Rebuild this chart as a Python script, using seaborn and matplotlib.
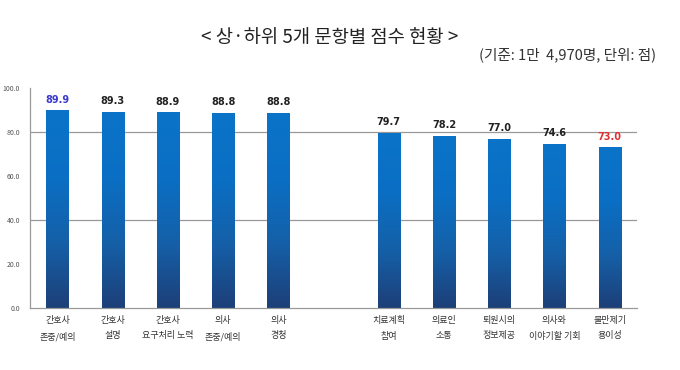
import numpy as np
import pandas as pd
import matplotlib
matplotlib.use("Agg")
import matplotlib.pyplot as plt
from matplotlib.colors import LinearSegmentedColormap
import seaborn as sns

items = ["간호사\n존중/예의", "간호사\n설명", "간호사\n요구처리 노력", "의사\n존중/예의", "의사\n경청",
         "치료계획\n참여", "의료인\n소통", "퇴원시의\n정보제공", "의사와\n이야기할 기회", "불만제기\n용이성"]
scores = [89.9, 89.3, 88.9, 88.8, 88.8, 79.7, 78.2, 77.0, 74.6, 73.0]
yticks = [0, 20, 40, 60, 80, 100]

sns.set_theme(style="white")
plt.rcParams["font.family"] = ["Noto Sans CJK KR", "DejaVu Sans"]

df = pd.DataFrame({"item": items, "score": scores})
order = items[:5] + [" "] + items[5:]

fig = plt.figure(figsize=(6.8, 3.7), dpi=100)
ax = fig.add_axes([0.044, 0.168, 0.893, 0.594])

sns.barplot(data=df, x="item", y="score", order=order, width=0.4, ax=ax)

# vertical gradient inside each bar
cmap = LinearSegmentedColormap.from_list("blu", ["#1d3f78", "#1560a8", "#0a6fc4", "#0b74c8"])
grad = np.linspace(0, 1, 256).reshape(-1, 1)
for p in ax.patches:
    x0, y0 = p.get_x(), p.get_y()
    w, h = p.get_width(), p.get_height()
    if np.isnan(h) or h == 0:
        continue
    p.set_facecolor("none")
    p.set_edgecolor("none")
    im = ax.imshow(grad, cmap=cmap, extent=[x0, x0 + w, y0, y0 + h],
                   origin="lower", aspect="auto", zorder=2)
    im.set_clip_path(p)

ax.set_xlim(-0.5, 10.5)
ax.set_ylim(0, 100)
ax.set_yticks(yticks)
ax.set_yticklabels([f"{v:.1f}" for v in yticks], fontsize=5, color="#555555")
ax.tick_params(axis="y", length=3, color="#888888", pad=4)
ax.tick_params(axis="x", length=0, pad=6)
ax.set_xticks(range(len(order)))
ax.set_xticklabels(order, fontsize=6.5, color="#333333", linespacing=1.9)
ax.set_xlabel("")
ax.set_ylabel("")
for v in [40, 80]:
    ax.axhline(v, color="#999999", lw=0.9, zorder=1)
for s in ["top", "right"]:
    ax.spines[s].set_visible(False)
for s in ["left", "bottom"]:
    ax.spines[s].set_color("#999999")
    ax.spines[s].set_linewidth(0.9)

pos = [i for i, o in enumerate(order) if o.strip()]
for i, (xp, v) in enumerate(zip(pos, scores)):
    c = "#3a3acc" if i == 0 else ("#e03030" if i == len(scores) - 1 else "#222222")
    ax.text(xp, v + 2.5, f"{v:.1f}", ha="center", va="bottom", fontsize=7,
            fontweight="bold", color=c, family=["DejaVu Sans"])

fig.text(0.485, 0.9, "< 상·하위 5개 문항별 점수 현황 >", ha="center", va="center",
         fontsize=13.5, color="#222222")
fig.text(0.965, 0.852, "(기준: 1만  4,970명, 단위: 점)", ha="right", va="center",
         fontsize=10.5, color="#333333")

fig.savefig("out.png", dpi=100)
